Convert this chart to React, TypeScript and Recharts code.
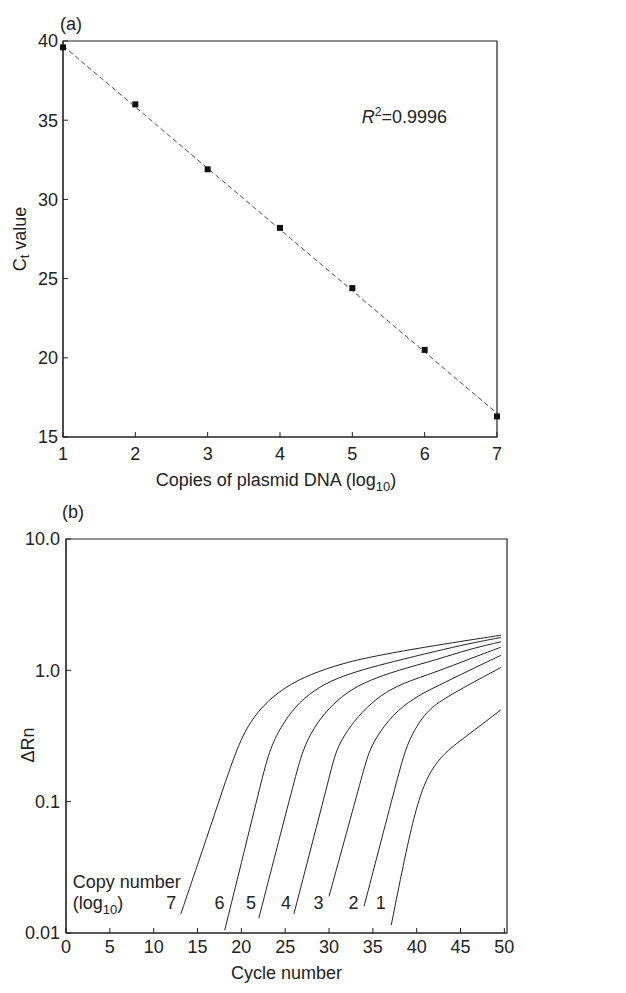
import { ComposedChart, LineChart, Line, Scatter, XAxis, YAxis, ReferenceArea, ReferenceDot, Label } from 'recharts';

// (a) standard curve
const copies = [1, 2, 3, 4, 5, 6, 7];
const ctValues = [39.6, 36.0, 31.9, 28.2, 24.4, 20.5, 16.3];
const fitX = [1, 7];
const fitY = [39.7, 16.5];
const ctTicks = [15, 20, 25, 30, 35, 40];

// (b) amplification plots, one pair of arrays per dilution
const c7Cycles = [13.1, 15.0, 17.0, 19.4, 21.0, 23.0, 25.7, 28.7, 32.5, 37.2, 42.2, 46, 49.6];
const c7Rn = [0.014, 0.033, 0.082, 0.25, 0.41, 0.59, 0.8, 0.98, 1.18, 1.36, 1.55, 1.7, 1.85];
const c6Cycles = [18.1, 20.0, 22.0, 23.2, 24.5, 26.1, 28.3, 30.8, 34.0, 37.2, 42.2, 46, 49.6];
const c6Rn = [0.0105, 0.034, 0.12, 0.25, 0.37, 0.53, 0.71, 0.87, 1.02, 1.16, 1.4, 1.6, 1.78];
const c5Cycles = [22.0, 24.0, 26.0, 27.0, 28.3, 29.9, 32.1, 34.6, 37.8, 42.2, 46, 49.6];
const c5Rn = [0.013, 0.043, 0.14, 0.25, 0.37, 0.51, 0.69, 0.84, 1.0, 1.2, 1.45, 1.65];
const c4Cycles = [26.0, 28.0, 30.0, 30.8, 32.1, 33.7, 35.9, 38.4, 42.2, 46, 49.6];
const c4Rn = [0.014, 0.046, 0.15, 0.25, 0.35, 0.48, 0.65, 0.8, 0.97, 1.22, 1.5];
const c3Cycles = [30.0, 32.0, 33.8, 34.6, 35.9, 37.8, 40.3, 42.2, 46, 49.6];
const c3Rn = [0.019, 0.058, 0.16, 0.25, 0.35, 0.5, 0.65, 0.75, 1.0, 1.3];
const c2Cycles = [34.0, 36.0, 37.8, 38.7, 39.7, 40.9, 42.2, 45.8, 49.6];
const c2Rn = [0.016, 0.052, 0.15, 0.25, 0.35, 0.46, 0.56, 0.77, 1.05];
const c1Cycles = [37.1, 38.5, 39.7, 40.8, 42.0, 43.5, 45.5, 47.5, 49.6];
const c1Rn = [0.0115, 0.034, 0.078, 0.135, 0.19, 0.245, 0.31, 0.39, 0.5];

const cycleTicks = [0, 5, 10, 15, 20, 25, 30, 35, 40, 45, 50];
const rnTicks = [0.01, 0.1, 1, 10];
const rnTickLabels = ['0.01', '0.1', '1.0', '10.0'];

const copyLabels = ['7', '6', '5', '4', '3', '2', '1'];
const copyLabelCycles = [12.0, 17.5, 21.1, 25.1, 28.8, 32.8, 35.9];
const copyLabelRn = 0.0169;

const FONT = '"Liberation Sans", Arial, Helvetica, sans-serif';
const INK = '#222';
const tickStyle = { fill: INK, fontSize: 18, fontFamily: FONT };

const zip = (xs: number[], ys: number[]) => xs.map((x, i) => ({ x, y: ys[i] }));

const curves = [
  zip(c7Cycles, c7Rn),
  zip(c6Cycles, c6Rn),
  zip(c5Cycles, c5Rn),
  zip(c4Cycles, c4Rn),
  zip(c3Cycles, c3Rn),
  zip(c2Cycles, c2Rn),
  zip(c1Cycles, c1Rn),
];

const Square = (p: any) => <rect x={p.cx - 3} y={p.cy - 3} width={6} height={6} fill="#111" />;

function TopChart() {
  const points = zip(copies, ctValues);
  const fit = zip(fitX, fitY);
  return (
    <ComposedChart width={626} height={500} margin={{ top: 41, right: 129, bottom: 0, left: 0 }}>
      <XAxis
        type="number" dataKey="x" domain={[1, 7]} ticks={copies} interval={0}
        tickSize={-5} tickMargin={15} tick={tickStyle}
        axisLine={{ stroke: INK }} tickLine={{ stroke: INK }} height={63}
      >
        <Label
          content={({ viewBox }: any) => (
            <text x={viewBox.x + viewBox.width / 2 - 4} y={viewBox.y + 49} textAnchor="middle"
              fontFamily={FONT} fontSize={18} fill={INK}>
              Copies of plasmid DNA (log<tspan dy={5} fontSize={13}>10</tspan><tspan dy={-5}>)</tspan>
            </text>
          )}
        />
      </XAxis>
      <YAxis
        type="number" dataKey="y" domain={[15, 40]} ticks={ctTicks} interval={0}
        tickSize={-5} tickMargin={10} tick={tickStyle}
        axisLine={{ stroke: INK }} tickLine={{ stroke: INK }} width={63}
      >
        <Label
          content={({ viewBox }: any) => {
            const cx = viewBox.x + 20;
            const cy = viewBox.y + viewBox.height / 2;
            return (
              <text x={cx} y={cy} transform={`rotate(-90 ${cx} ${cy})`} textAnchor="middle"
                dominantBaseline="central" fontFamily={FONT} fontSize={18} fill={INK}>
                C<tspan dy={4} fontSize={13}>t</tspan><tspan dy={-4}> value</tspan>
              </text>
            );
          }}
        />
      </YAxis>
      <ReferenceArea x1={1} x2={7} y1={15} y2={40} fill="none" stroke={INK} strokeWidth={1.2} />
      <Line data={fit} dataKey="y" stroke="#333" strokeWidth={0.9} strokeDasharray="5 3"
        dot={false} isAnimationActive={false} />
      <Scatter data={points} dataKey="y" shape={Square} isAnimationActive={false} />
      <ReferenceDot x={5.13} y={34.8} r={0} stroke="none" fill="none"
        label={({ viewBox }: any) => (
          <text x={viewBox.x} y={viewBox.y} fontFamily={FONT} fontSize={18} fill={INK}>
            <tspan fontStyle="italic">R</tspan><tspan dy={-7} fontSize={12}>2</tspan><tspan dy={7}>=0.9996</tspan>
          </text>
        )}
      />
    </ComposedChart>
  );
}

function BottomChart() {
  return (
    <LineChart width={626} height={493} margin={{ top: 39, right: 119, bottom: 0, left: 0 }}>
      <XAxis
        type="number" dataKey="x" domain={[0, 50.3]} ticks={cycleTicks} interval={0}
        allowDataOverflow tickSize={-5} tickMargin={12} tick={tickStyle}
        axisLine={{ stroke: INK }} tickLine={{ stroke: INK }} height={60}
      >
        <Label
          content={({ viewBox }: any) => (
            <text x={viewBox.x + viewBox.width / 2} y={viewBox.y + 46} textAnchor="middle"
              fontFamily={FONT} fontSize={18} fill={INK}>
              Cycle number
            </text>
          )}
        />
      </XAxis>
      <YAxis
        type="number" dataKey="y" scale="log" domain={[0.01, 10]} ticks={rnTicks} interval={0}
        allowDataOverflow tickSize={-5} tickMargin={11} tick={tickStyle}
        tickFormatter={(v: number) => rnTickLabels[rnTicks.indexOf(v)] ?? String(v)}
        axisLine={{ stroke: INK }} tickLine={{ stroke: INK }} width={66}
      >
        <Label
          content={({ viewBox }: any) => {
            const cx = viewBox.x + 28;
            const cy = viewBox.y + viewBox.height / 2 + 9;
            return (
              <text x={cx} y={cy} transform={`rotate(-90 ${cx} ${cy})`} textAnchor="middle"
                dominantBaseline="central" fontFamily={FONT} fontSize={18} fill={INK}>
                ΔRn
              </text>
            );
          }}
        />
      </YAxis>
      <ReferenceArea x1={0} x2={50.3} y1={0.01} y2={10} fill="none" stroke={INK} strokeWidth={1.2} />
      {curves.map((d, i) => (
        <Line key={i} data={d} dataKey="y" type="basis" stroke={INK} strokeWidth={1}
          dot={false} isAnimationActive={false} />
      ))}
      <ReferenceDot x={1} y={copyLabelRn} r={0} stroke="none" fill="none"
        label={({ viewBox }: any) => (
          <text x={viewBox.x - 2} y={viewBox.y} fontFamily={FONT} fontSize={18} fill={INK}>
            <tspan x={viewBox.x - 2} dy={-15}>Copy number</tspan>
            <tspan x={viewBox.x - 2} dy={21}>(log</tspan>
            <tspan dy={5} fontSize={13}>10</tspan>
            <tspan dy={-5}>)</tspan>
          </text>
        )}
      />
      {copyLabels.map((t, i) => (
        <ReferenceDot key={t} x={copyLabelCycles[i]} y={copyLabelRn} r={0} stroke="none" fill="none"
          label={{ value: t, position: 'center', fill: INK, fontSize: 18, fontFamily: FONT }} />
      ))}
    </LineChart>
  );
}

export default function App() {
  return (
    <div style={{ position: 'absolute', top: 0, left: 0, width: 626, height: 993, background: '#fff', fontFamily: FONT }}>
      <div style={{ position: 'absolute', top: 0, left: 0 }}>
        <TopChart />
      </div>
      <div style={{ position: 'absolute', top: 500, left: 0 }}>
        <BottomChart />
      </div>
      <div style={{ position: 'absolute', left: 60, top: 14, fontSize: 18, color: INK }}>(a)</div>
      <div style={{ position: 'absolute', left: 62, top: 502, fontSize: 18, color: INK }}>(b)</div>
    </div>
  );
}
